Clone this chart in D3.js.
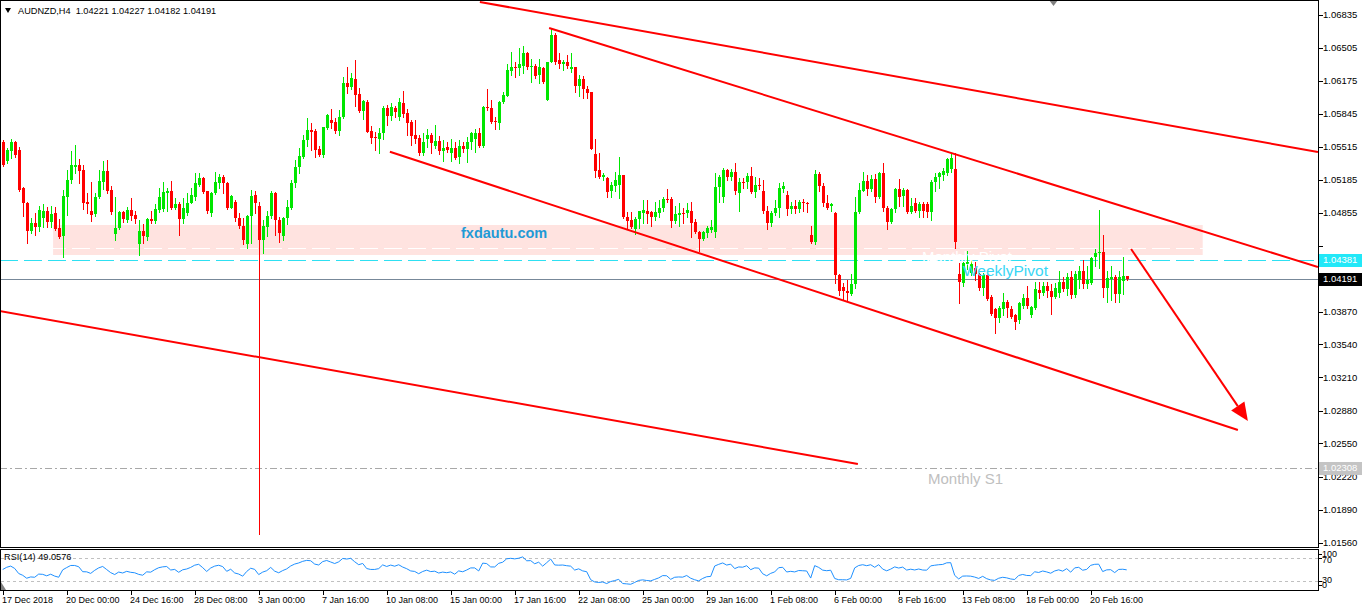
<!DOCTYPE html>
<html>
<head>
<meta charset="utf-8">
<script src="https://cdn.jsdelivr.net/npm/d3@7"></script>
<style>
  body { margin: 0; background: #fff; }
  svg { display: block; font-family: "Liberation Sans", Arial, sans-serif; }
</style>
</head>
<body>
<div id="chart"></div>
<script>
// AUDNZD H4 candles (bar 0 = 17 Dec 2018)
const opens = [
  1.0556,1.0537,1.0547,1.0556,1.0548,1.0511,1.0495,1.0468,1.0475,1.0472,
  1.0480,1.0487,1.0476,1.0485,1.0471,1.0462,1.0501,1.0518,1.0532,1.0534,
  1.0528,1.0496,1.0487,1.0484,1.0501,1.0516,1.0527,1.0509,1.0464,1.0471,
  1.0486,1.0478,1.0489,1.0483,1.0454,1.0468,1.0461,1.0479,1.0477,1.0489,
  1.0490,1.0505,1.0508,1.0491,1.0494,1.0479,1.0485,1.0495,1.0501,1.0514,
  1.0520,1.0507,1.0485,1.0505,1.0515,1.0521,1.0515,1.0491,1.0496,1.0480,
  1.0473,1.0454,1.0482,1.0503,1.0493,1.0458,1.0472,1.0482,1.0505,1.0478,
  1.0462,1.0480,1.0491,1.0515,1.0532,1.0541,1.0558,1.0568,1.0567,1.0549,
  1.0543,1.0571,1.0578,1.0576,1.0567,1.0581,1.0615,1.0612,1.0619,1.0604,
  1.0587,1.0596,1.0567,1.0561,1.0559,1.0565,1.0591,1.0582,1.0591,1.0581,
  1.0595,1.0585,1.0576,1.0563,1.0560,1.0545,1.0559,1.0563,1.0553,1.0557,
  1.0547,1.0552,1.0545,1.0551,1.0541,1.0553,1.0549,1.0556,1.0559,1.0565,
  1.0553,1.0592,1.0590,1.0577,1.0575,1.0596,1.0602,1.0627,1.0632,1.0630,
  1.0633,1.0645,1.0632,1.0633,1.0623,1.0630,1.0598,1.0636,1.0663,1.0638,
  1.0635,1.0636,1.0629,1.0631,1.0613,1.0619,1.0609,1.0606,1.0544,1.0528,
  1.0521,1.0520,1.0507,1.0513,1.0514,1.0523,1.0481,1.0478,1.0470,1.0479,
  1.0485,1.0488,1.0486,1.0481,1.0485,1.0491,1.0499,1.0499,1.0477,1.0483,
  1.0485,1.0485,1.0488,1.0476,1.0467,1.0459,1.0465,1.0469,1.0466,1.0512,
  1.0501,1.0529,1.0521,1.0526,1.0505,1.0516,1.0516,1.0522,1.0506,1.0514,
  1.0508,1.0487,1.0475,1.0485,1.0491,1.0510,1.0503,1.0490,1.0493,1.0490,
  1.0496,1.0495,1.0463,1.0456,1.0524,1.0513,1.0495,1.0493,1.0485,1.0423,
  1.0412,1.0408,1.0405,1.0414,1.0486,1.0508,1.0517,1.0510,1.0519,1.0501,
  1.0525,1.0491,1.0476,1.0490,1.0510,1.0502,1.0509,1.0486,1.0495,1.0487,
  1.0494,1.0494,1.0486,1.0516,1.0521,1.0523,1.0525,1.0530,1.0530,1.0425,
  1.0415,1.0434,1.0426,1.0431,1.0425,1.0411,1.0423,1.0401,1.0390,1.0380,
  1.0390,1.0396,1.0390,1.0383,1.0378,1.0393,1.0400,1.0383,1.0391,1.0409,
  1.0406,1.0413,1.0408,1.0401,1.0406,1.0416,1.0410,1.0421,1.0404,1.0418,
  1.0428,1.0414,1.0415,1.0441,1.0445,1.0447,1.0411,1.0419,1.0421,1.0405,
  1.0417,1.04221
];
const highs = [
  1.0558,1.0551,1.0559,1.0557,1.0552,1.0512,1.0496,1.0480,1.0485,1.0493,
  1.0494,1.0492,1.0493,1.0492,1.0479,1.0509,1.0528,1.0547,1.0554,1.0539,
  1.0534,1.0505,1.0516,1.0505,1.0528,1.0537,1.0538,1.0513,1.0501,1.0487,
  1.0488,1.0492,1.0500,1.0488,1.0478,1.0474,1.0480,1.0488,1.0494,1.0511,
  1.0516,1.0511,1.0517,1.0500,1.0496,1.0500,1.0505,1.0511,1.0525,1.0525,
  1.0521,1.0508,1.0506,1.0526,1.0524,1.0523,1.0516,1.0503,1.0498,1.0485,
  1.0480,1.0483,1.0509,1.0508,1.0496,1.0478,1.0487,1.0507,1.0506,1.0481,
  1.0481,1.0498,1.0518,1.0538,1.0551,1.0563,1.0580,1.0575,1.0570,1.0553,
  1.0572,1.0584,1.0589,1.0580,1.0588,1.0621,1.0631,1.0625,1.0638,1.0610,
  1.0598,1.0598,1.0573,1.0566,1.0571,1.0593,1.0594,1.0595,1.0593,1.0600,
  1.0607,1.0589,1.0578,1.0578,1.0563,1.0565,1.0570,1.0565,1.0574,1.0562,
  1.0558,1.0556,1.0559,1.0556,1.0558,1.0556,1.0561,1.0566,1.0569,1.0571,
  1.0593,1.0609,1.0598,1.0581,1.0597,1.0606,1.0635,1.0646,1.0636,1.0650,
  1.0652,1.0646,1.0639,1.0635,1.0639,1.0631,1.0636,1.0670,1.0665,1.0645,
  1.0638,1.0643,1.0645,1.0632,1.0623,1.0622,1.0613,1.0606,1.0559,1.0545,
  1.0525,1.0521,1.0516,1.0526,1.0541,1.0523,1.0486,1.0486,1.0481,1.0488,
  1.0498,1.0498,1.0488,1.0496,1.0498,1.0501,1.0510,1.0501,1.0493,1.0495,
  1.0491,1.0495,1.0496,1.0479,1.0468,1.0468,1.0473,1.0478,1.0525,1.0523,
  1.0531,1.0530,1.0530,1.0535,1.0520,1.0520,1.0525,1.0532,1.0521,1.0520,
  1.0518,1.0493,1.0487,1.0498,1.0515,1.0516,1.0508,1.0496,1.0498,1.0498,
  1.0499,1.0496,1.0473,1.0529,1.0526,1.0515,1.0503,1.0495,1.0486,1.0425,
  1.0415,1.0418,1.0425,1.0501,1.0515,1.0526,1.0523,1.0523,1.0524,1.0526,
  1.0535,1.0493,1.0491,1.0511,1.0519,1.0511,1.0510,1.0500,1.0500,1.0496,
  1.0496,1.0496,1.0518,1.0525,1.0526,1.0531,1.0540,1.0545,1.0545,1.0435,
  1.0436,1.0448,1.0438,1.0436,1.0426,1.0426,1.0426,1.0403,1.0391,1.0393,
  1.0406,1.0398,1.0393,1.0385,1.0396,1.0405,1.0413,1.0393,1.0416,1.0416,
  1.0416,1.0416,1.0414,1.0415,1.0428,1.0421,1.0426,1.0428,1.0428,1.0433,
  1.0438,1.0433,1.0441,1.0450,1.0489,1.0463,1.0428,1.0433,1.0423,1.0428,
  1.0441,1.04227
];
const lows = [
  1.0533,1.0535,1.0540,1.0541,1.0508,1.0482,1.0455,1.0465,1.0463,1.0468,
  1.0472,1.0472,1.0472,1.0469,1.0460,1.0441,1.0483,1.0515,1.0525,1.0515,
  1.0490,1.0485,1.0477,1.0482,1.0500,1.0510,1.0505,1.0484,1.0458,1.0470,
  1.0476,1.0476,1.0478,1.0475,1.0443,1.0455,1.0458,1.0475,1.0475,1.0486,
  1.0488,1.0488,1.0490,1.0490,1.0463,1.0475,1.0483,1.0495,1.0498,1.0513,
  1.0505,1.0485,1.0482,1.0504,1.0511,1.0505,1.0490,1.0491,1.0477,1.0471,
  1.0454,1.0451,1.0455,1.0485,1.0165,1.0446,1.0462,1.0480,1.0463,1.0456,
  1.0458,1.0474,1.0490,1.0512,1.0525,1.0540,1.0553,1.0548,1.0541,1.0542,
  1.0541,1.0570,1.0571,1.0565,1.0563,1.0580,1.0605,1.0609,1.0593,1.0586,
  1.0579,1.0566,1.0555,1.0548,1.0545,1.0559,1.0574,1.0578,1.0581,1.0578,
  1.0581,1.0563,1.0554,1.0555,1.0543,1.0543,1.0552,1.0545,1.0551,1.0544,
  1.0537,1.0546,1.0537,1.0539,1.0535,1.0546,1.0536,1.0549,1.0546,1.0552,
  1.0552,1.0588,1.0575,1.0570,1.0570,1.0595,1.0602,1.0623,1.0621,1.0623,
  1.0625,1.0629,1.0616,1.0620,1.0615,1.0615,1.0598,1.0636,1.0635,1.0630,
  1.0628,1.0630,1.0626,1.0606,1.0602,1.0600,1.0600,1.0549,1.0521,1.0520,
  1.0518,1.0501,1.0501,1.0508,1.0500,1.0480,1.0470,1.0471,1.0464,1.0471,
  1.0475,1.0475,1.0473,1.0478,1.0481,1.0488,1.0496,1.0472,1.0475,1.0473,
  1.0475,1.0481,1.0461,1.0465,1.0448,1.0458,1.0461,1.0466,1.0461,1.0496,
  1.0496,1.0518,1.0518,1.0504,1.0487,1.0511,1.0511,1.0505,1.0501,1.0510,
  1.0485,1.0470,1.0473,1.0483,1.0481,1.0506,1.0483,1.0485,1.0485,1.0486,
  1.0488,1.0486,1.0455,1.0454,1.0508,1.0493,1.0490,1.0488,1.0415,1.0403,
  1.0398,1.0398,1.0403,1.0411,1.0485,1.0508,1.0503,1.0508,1.0496,1.0500,
  1.0488,1.0470,1.0475,1.0486,1.0493,1.0493,1.0485,1.0485,1.0486,1.0481,
  1.0481,1.0481,1.0478,1.0508,1.0511,1.0518,1.0523,1.0526,1.0451,1.0395,
  1.0413,1.0430,1.0423,1.0418,1.0409,1.0403,1.0398,1.0383,1.0366,1.0376,
  1.0383,1.0381,1.0380,1.0370,1.0375,1.0391,1.0391,1.0381,1.0390,1.0400,
  1.0403,1.0401,1.0385,1.0400,1.0401,1.0408,1.0403,1.0400,1.0401,1.0411,
  1.0411,1.0411,1.0414,1.0433,1.0431,1.0401,1.0396,1.0398,1.0396,1.0396,
  1.0405,1.04182
];
const closes = [
  1.0534,1.0548,1.0556,1.0543,1.0509,1.0495,1.0468,1.0475,1.0472,1.0489,
  1.0487,1.0476,1.0484,1.0470,1.0461,1.0502,1.0518,1.0534,1.0534,1.0527,
  1.0495,1.0494,1.0483,1.0501,1.0517,1.0527,1.0508,1.0486,1.0471,1.0486,
  1.0479,1.0489,1.0482,1.0479,1.0468,1.0462,1.0479,1.0477,1.0490,1.0501,
  1.0506,1.0508,1.0491,1.0494,1.0479,1.0491,1.0495,1.0503,1.0515,1.0520,
  1.0506,1.0487,1.0505,1.0516,1.0521,1.0515,1.0491,1.0502,1.0480,1.0473,
  1.0458,1.0482,1.0502,1.0495,1.0458,1.0473,1.0482,1.0505,1.0478,1.0465,
  1.0480,1.0492,1.0515,1.0532,1.0542,1.0558,1.0568,1.0566,1.0548,1.0543,
  1.0572,1.0583,1.0575,1.0567,1.0581,1.0615,1.0612,1.0620,1.0603,1.0587,
  1.0597,1.0566,1.0560,1.0560,1.0565,1.0591,1.0582,1.0592,1.0586,1.0596,
  1.0584,1.0575,1.0562,1.0559,1.0545,1.0556,1.0563,1.0555,1.0557,1.0547,
  1.0551,1.0548,1.0551,1.0540,1.0553,1.0549,1.0556,1.0565,1.0565,1.0553,
  1.0592,1.0590,1.0576,1.0576,1.0596,1.0603,1.0628,1.0632,1.0630,1.0635,
  1.0645,1.0632,1.0633,1.0622,1.0631,1.0616,1.0636,1.0663,1.0636,1.0635,
  1.0636,1.0633,1.0631,1.0613,1.0619,1.0609,1.0605,1.0550,1.0527,1.0521,
  1.0523,1.0506,1.0514,1.0518,1.0523,1.0481,1.0477,1.0472,1.0479,1.0487,
  1.0489,1.0484,1.0481,1.0486,1.0491,1.0499,1.0498,1.0477,1.0484,1.0485,
  1.0484,1.0489,1.0475,1.0466,1.0459,1.0466,1.0471,1.0472,1.0512,1.0521,
  1.0529,1.0521,1.0526,1.0508,1.0516,1.0515,1.0522,1.0506,1.0514,1.0513,
  1.0487,1.0475,1.0485,1.0491,1.0511,1.0513,1.0490,1.0493,1.0490,1.0496,
  1.0495,1.0494,1.0456,1.0524,1.0513,1.0495,1.0491,1.0494,1.0423,1.0408,
  1.0408,1.0406,1.0414,1.0486,1.0509,1.0517,1.0510,1.0519,1.0501,1.0525,
  1.0491,1.0476,1.0490,1.0510,1.0501,1.0509,1.0486,1.0493,1.0487,1.0494,
  1.0487,1.0486,1.0516,1.0521,1.0525,1.0527,1.0539,1.0540,1.0456,1.0416,
  1.0435,1.0436,1.0434,1.0425,1.0411,1.0423,1.0399,1.0385,1.0380,1.0391,
  1.0396,1.0391,1.0381,1.0376,1.0395,1.0400,1.0393,1.0392,1.0410,1.0406,
  1.0413,1.0408,1.0401,1.0411,1.0416,1.0410,1.0421,1.0404,1.0425,1.0428,
  1.0414,1.0418,1.0440,1.0446,1.0447,1.0411,1.0420,1.0421,1.0405,1.0421,
  1.0422,1.04191
];

// time axis: a label every 16 bars
const timeLabels = ["17 Dec 2018","20 Dec 00:00","24 Dec 16:00","28 Dec 08:00","3 Jan 00:00",
  "7 Jan 16:00","10 Jan 08:00","15 Jan 00:00","17 Jan 16:00","22 Jan 08:00","25 Jan 00:00",
  "29 Jan 16:00","1 Feb 08:00","6 Feb 00:00","8 Feb 16:00","13 Feb 08:00","18 Feb 00:00","20 Feb 16:00"];
const timeLabelBars = [0,16,32,48,64,80,96,112,128,144,160,176,192,208,224,240,256,272];

const priceTicks = [1.06835,1.06505,1.06175,1.05845,1.05515,1.05185,1.04855,
  1.03870,1.03540,1.03210,1.02880,1.02550,1.02220,1.01890,1.01560];
const hiddenTicks = [1.04525, 1.04195];

// levels
const weeklyPivot = 1.04381;
const monthlyPivot = 1.04505;
const monthlyS1 = 1.02308;
const bidPrice = 1.04191;
const zonePrices = [1.04735, 1.04435];
const zoneBars = [12.6, 300];

// trend lines: [barStart, priceStart, barEnd, priceEnd]
const trendLines = [
  [119.3, 1.06965, 328.8, 1.05465],
  [136.6, 1.06705, 328.8, 1.04315],
  [96.8, 1.05468, 308.8, 1.02685],
  [-0.7, 1.03875, 213.8, 1.02345]
];
const arrowLine = [282.1, 1.04495, 311.3, 1.02775];

const rsiPeriod = 14;
const rsiShown = 49.0576;
const rsiLevels = [70, 30];
const header = "AUDNZD,H4  1.04221 1.04227 1.04182 1.04191";

// ---------------------------------------------------------------
var width = 1362, height = 605;
var plotRight = 1318, mainBottom = 547, rsiTop = 549, rsiBottom = 590;
var upColor = "#00e600", downColor = "#ff0000";

var svg = d3.select("#chart").append("svg")
  .attr("width", width)
  .attr("height", height);

var x = d3.scaleLinear().domain([0, 281]).range([2.7, 1126.7]);
var y = d3.scaleLinear().domain([1.06835, 1.01560]).range([15, 542.5]);
var yr = d3.scaleLinear().domain([30, 70]).range([581, 558]);

svg.append("clipPath").attr("id", "mainClip")
  .append("rect").attr("x", 1).attr("y", 1).attr("width", plotRight - 1).attr("height", mainBottom - 1);
svg.append("clipPath").attr("id", "rsiClip")
  .append("rect").attr("x", 1).attr("y", rsiTop + 1).attr("width", plotRight - 1).attr("height", rsiBottom - rsiTop - 1);

var main = svg.append("g").attr("clip-path", "url(#mainClip)");

// pink zone
main.append("rect")
  .attr("x", x(zoneBars[0]))
  .attr("y", y(zonePrices[0]))
  .attr("width", x(zoneBars[1]) - x(zoneBars[0]))
  .attr("height", y(zonePrices[1]) - y(zonePrices[0]))
  .attr("fill", "#ffe3e0");

function hLine(price, color, dash) {
  var yy = Math.round(y(price)) + 0.5;
  main.append("line")
    .attr("x1", 0).attr("x2", plotRight)
    .attr("y1", yy).attr("y2", yy)
    .attr("stroke", color)
    .attr("stroke-width", 1)
    .attr("shape-rendering", "crispEdges")
    .attr("stroke-dasharray", dash);
}
hLine(monthlyPivot, "#ffffff", "18,6");
hLine(weeklyPivot, "#2ee0f2", "18,6");
hLine(bidPrice, "#778899", null);
hLine(monthlyS1, "#a8a8a8", "7,3,2,3");

main.append("text")
  .attr("x", 461).attr("y", 238)
  .style("font-size", "14.5px").style("font-weight", "bold")
  .attr("fill", "#1f9ad6")
  .text("fxdautu.com");

// candles
var bars = d3.range(closes.length);
function barColor(i) { return closes[i] >= opens[i] ? upColor : downColor; }
var candle = main.selectAll("g.candle")
  .data(bars)
  .enter()
  .append("g")
  .attr("class", "candle")
  .attr("shape-rendering", "crispEdges");

candle.append("rect")
  .attr("fill", barColor)
  .attr("x", function (i) { return Math.round(x(i)); })
  .attr("width", 1)
  .attr("y", function (i) { return Math.round(y(highs[i])); })
  .attr("height", function (i) { return Math.round(y(lows[i])) - Math.round(y(highs[i])) + 1; });

candle.append("rect")
  .attr("fill", barColor)
  .attr("x", function (i) { return Math.round(x(i)) - 1; })
  .attr("width", 3)
  .attr("y", function (i) { return Math.round(y(Math.max(opens[i], closes[i]))); })
  .attr("height", function (i) {
    return Math.max(1, Math.round(y(Math.min(opens[i], closes[i]))) - Math.round(y(Math.max(opens[i], closes[i]))));
  });

// pivot labels
main.append("text")
  .attr("x", 922).attr("y", 262)
  .style("font-size", "15px").attr("fill", "#ffffff")
  .text("Monthly Pivot");
main.append("text")
  .attr("x", 963).attr("y", 276)
  .style("font-size", "15.5px").attr("fill", "#38d6f5")
  .text("WeeklyPivot");
main.append("text")
  .attr("x", 928).attr("y", 484)
  .style("font-size", "15px").attr("fill", "#c0c0c0")
  .text("Monthly S1");

// trend lines
main.selectAll("line.trend")
  .data(trendLines)
  .enter()
  .append("line")
  .attr("class", "trend")
  .attr("x1", function (d) { return x(d[0]); })
  .attr("y1", function (d) { return y(d[1]); })
  .attr("x2", function (d) { return x(d[2]); })
  .attr("y2", function (d) { return y(d[3]); })
  .attr("stroke", "#ff0000")
  .attr("stroke-width", 2);

// arrow
var ax1 = x(arrowLine[0]), ay1 = y(arrowLine[1]), ax2 = x(arrowLine[2]), ay2 = y(arrowLine[3]);
var len = Math.hypot(ax2 - ax1, ay2 - ay1), ux = (ax2 - ax1) / len, uy = (ay2 - ay1) / len;
var bx = ax2 - 18 * ux, by = ay2 - 18 * uy;
main.append("line")
  .attr("x1", ax1).attr("y1", ay1).attr("x2", bx).attr("y2", by)
  .attr("stroke", "#ff0000").attr("stroke-width", 2);
main.append("path")
  .attr("d", "M" + ax2 + "," + ay2 + "L" + (bx - 8 * uy) + "," + (by + 8 * ux) + "L" + (bx + 8 * uy) + "," + (by - 8 * ux) + "Z")
  .attr("fill", "#ff0000");

// chart shift marker
svg.append("path").attr("d", "M1049,0L1058,0L1053.5,6Z").attr("fill", "#808080");

// header
svg.append("path").attr("d", "M5,8L11,8L8,13Z").attr("fill", "#000");
svg.append("text")
  .attr("x", 18).attr("y", 14)
  .style("font-size", "9.2px")
  .style("white-space", "pre")
  .text(header);

// frames
svg.append("rect").attr("x", 0.5).attr("y", 0.5).attr("width", plotRight).attr("height", mainBottom)
  .attr("fill", "none").attr("stroke", "#000").attr("shape-rendering", "crispEdges");
svg.append("rect").attr("x", 0.5).attr("y", rsiTop + 0.5).attr("width", plotRight).attr("height", rsiBottom - rsiTop)
  .attr("fill", "none").attr("stroke", "#000").attr("shape-rendering", "crispEdges");

// price axis
var axisG = svg.append("g").style("font-size", "9.5px");
priceTicks.concat(hiddenTicks).forEach(function (p) {
  var yy = Math.round(y(p)) + 0.5;
  axisG.append("line").attr("x1", plotRight + 1).attr("x2", plotRight + 5)
    .attr("y1", yy).attr("y2", yy).attr("stroke", "#000");
});
axisG.selectAll("text.tick")
  .data(priceTicks)
  .enter()
  .append("text")
  .attr("class", "tick")
  .attr("x", 1323)
  .attr("y", function (d) { return y(d); })
  .attr("dy", "0.35em")
  .text(function (d) { return d.toFixed(5); });

function priceBox(price, bg, fg) {
  var yy = Math.round(y(price));
  axisG.append("rect").attr("x", plotRight + 1).attr("y", yy - 6).attr("width", 44).attr("height", 13).attr("fill", bg);
  axisG.append("text").attr("x", 1323).attr("y", yy).attr("dy", "0.35em").attr("fill", fg).text(price.toFixed(5));
}
priceBox(weeklyPivot, "#22e8f8", "#ffffff");
priceBox(bidPrice, "#000000", "#ffffff");
priceBox(monthlyS1, "#c4c4c4", "#ffffff");

// RSI(14) of the closes, Wilder smoothing, seeded neutral from the first bars' mean move
var seed = d3.mean(d3.range(1, rsiPeriod + 1), function (i) { return Math.abs(closes[i] - closes[i - 1]); }) / 2;
var avgGain = seed, avgLoss = seed;
var rsiValues = [{ i: 0, v: 50 }];
for (var i = 1; i < closes.length; i++) {
  var ch = closes[i] - closes[i - 1];
  avgGain = (avgGain * (rsiPeriod - 1) + Math.max(ch, 0)) / rsiPeriod;
  avgLoss = (avgLoss * (rsiPeriod - 1) + Math.max(-ch, 0)) / rsiPeriod;
  rsiValues.push({ i: i, v: 100 - 100 / (1 + avgGain / avgLoss) });
}

var rsiG = svg.append("g").attr("clip-path", "url(#rsiClip)");
rsiLevels.forEach(function (lv) {
  rsiG.append("line").attr("x1", 1).attr("x2", plotRight)
    .attr("y1", Math.round(yr(lv)) + 0.5).attr("y2", Math.round(yr(lv)) + 0.5)
    .attr("stroke", "#c0c0c0").attr("stroke-dasharray", "3,3");
});
rsiG.append("path")
  .datum(rsiValues)
  .attr("fill", "none")
  .attr("stroke", "#1e90ff")
  .attr("stroke-width", 1)
  .attr("d", d3.line().x(function (d) { return x(d.i); }).y(function (d) { return yr(d.v); }));
rsiG.append("path").attr("d", "M1,582L1,590L6,590Z").attr("fill", "#808080");

svg.append("text")
  .attr("x", 4).attr("y", 560)
  .style("font-size", "9.2px")
  .text("RSI(" + rsiPeriod + ") " + rsiShown.toFixed(4));

var rsiAxis = svg.append("g").style("font-size", "9px");
[["100", rsiTop + 5], ["70", yr(70) + 1.5], ["30", yr(30) - 1], ["0", rsiBottom - 5]].forEach(function (d) {
  rsiAxis.append("text").attr("x", 1322).attr("y", d[1]).attr("dy", "0.35em").text(d[0]);
});
[rsiTop + 5, yr(70), yr(30), rsiBottom - 5].forEach(function (yy) {
  rsiAxis.append("line").attr("x1", plotRight + 1).attr("x2", plotRight + 4)
    .attr("y1", Math.round(yy) + 0.5).attr("y2", Math.round(yy) + 0.5).attr("stroke", "#000");
});

// time axis
var timeG = svg.append("g").style("font-size", "9px");
timeLabelBars.forEach(function (b, k) {
  var xx = Math.round(x(b)) + 0.5;
  timeG.append("line").attr("x1", xx).attr("x2", xx).attr("y1", rsiBottom).attr("y2", rsiBottom + 5).attr("stroke", "#000");
  timeG.append("text").attr("x", xx - 1.5).attr("y", 603).text(timeLabels[k]);
});
</script>
</body>
</html>
